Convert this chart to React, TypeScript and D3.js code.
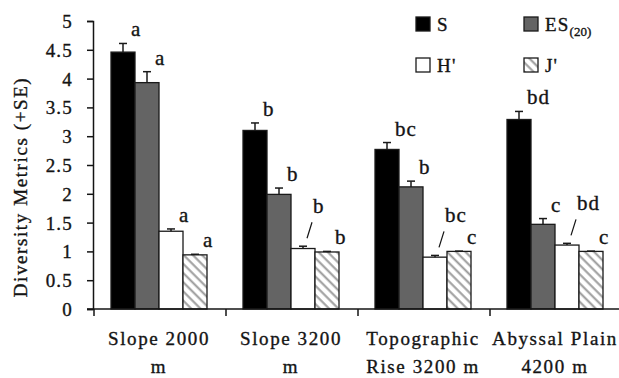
import React, { useEffect, useRef } from 'react';
import * as d3 from 'd3';

const categories = ['Slope 2000 m', 'Slope 3200 m', 'Topographic Rise 3200 m', 'Abyssal Plain 4200 m'];
const categoryLines = [
  ['Slope 2000', 'm'],
  ['Slope 3200', 'm'],
  ['Topographic', 'Rise 3200 m'],
  ['Abyssal Plain', '4200 m'],
];
const seriesNames = ['S', 'ES(20)', "H'", "J'"];

const sValues = [4.46, 3.1, 2.77, 3.29];
const sErrors = [0.15, 0.13, 0.12, 0.14];
const esValues = [3.93, 1.99, 2.12, 1.47];
const esErrors = [0.19, 0.11, 0.1, 0.1];
const hValues = [1.35, 1.05, 0.9, 1.11];
const hErrors = [0.04, 0.04, 0.03, 0.03];
const jValues = [0.94, 0.99, 1.0, 1.0];
const jErrors = [0.01, 0.01, 0.005, 0.005];

const sLetters = ['a', 'b', 'bc', 'bd'];
const esLetters = ['a', 'b', 'b', 'c'];
const hLetters = ['a', 'b', 'bc', 'bd'];
const jLetters = ['a', 'b', 'c', 'c'];
const hLeaders = [false, true, true, true];

const yTicks = [0, 0.5, 1, 1.5, 2, 2.5, 3, 3.5, 4, 4.5, 5];

const App = () => {
  const svgRef = useRef<SVGSVGElement>(null);

  useEffect(() => {
    document.body.style.margin = '0';
    const W = 619;
    const H = 378;
    const left = 93;
    const right = 621;
    const top = 21;
    const bottom = 309;
    const font = 'Liberation Serif, DejaVu Serif, serif';
    const ink = '#141414';

    const root = d3.select(svgRef.current);
    root.selectAll('*').remove();
    root.attr('width', W).attr('height', H).style('font-family', font);

    const defs = root.append('defs');
    const pat = defs
      .append('pattern')
      .attr('id', 'hatch')
      .attr('patternUnits', 'userSpaceOnUse')
      .attr('width', 6.5)
      .attr('height', 6.5)
      .attr('patternTransform', 'rotate(-45)');
    pat.append('rect').attr('width', 6.5).attr('height', 6.5).attr('fill', '#fff');
    pat.append('line').attr('x1', 1.5).attr('y1', 0).attr('x2', 1.5).attr('y2', 6.5)
      .attr('stroke', '#9a9a9a').attr('stroke-width', 2);

    const fills = ['#000', '#646464', '#fff', 'url(#hatch)'];

    const series = [
      { name: seriesNames[0], values: sValues, errors: sErrors, letters: sLetters, leaders: [false, false, false, false] },
      { name: seriesNames[1], values: esValues, errors: esErrors, letters: esLetters, leaders: [false, false, false, false] },
      { name: seriesNames[2], values: hValues, errors: hErrors, letters: hLetters, leaders: hLeaders },
      { name: seriesNames[3], values: jValues, errors: jErrors, letters: jLetters, leaders: [false, false, false, false] },
    ];

    const x0 = d3.scaleBand<string>().domain(categories).range([left, right]).padding(0);
    const x1 = d3.scaleBand<string>().domain(seriesNames).range([0, x0.bandwidth()])
      .paddingInner(0).paddingOuter(0.75);
    const y = d3.scaleLinear().domain([0, 5]).range([bottom, top]);

    // serif text, slightly heavier like the scanned original
    const txt = (sel: any, size: number, spacing: number) =>
      sel.style('font-family', font).style('font-size', `${size}px`).attr('fill', ink)
        .attr('stroke', ink).attr('stroke-width', 0.35)
        .attr('letter-spacing', spacing);

    // y axis
    const yAxis = root.append('g').attr('transform', `translate(${left},0)`)
      .call(d3.axisLeft(y).tickValues(yTicks).tickSize(6).tickPadding(14).tickFormat(d => String(d)));
    yAxis.select('.domain').attr('stroke', ink).attr('stroke-width', 1.5);
    yAxis.selectAll('.tick line').attr('stroke', ink).attr('stroke-width', 1.5);
    txt(yAxis.selectAll('.tick text'), 19, 1.2).attr('dy', '0.34em');

    // bars
    series.forEach((s, si) => {
      const g = root.append('g');
      categories.forEach((c, ci) => {
        const bx = (x0(c) as number) + (x1(s.name) as number);
        const bw = x1.bandwidth();
        const v = s.values[ci];
        g.append('rect')
          .attr('x', bx).attr('y', y(v))
          .attr('width', bw).attr('height', y(0) - y(v))
          .attr('fill', fills[si]).attr('stroke', '#1a1a1a').attr('stroke-width', 1.3);
        const cx = bx + bw / 2;
        const et = y(v + s.errors[ci]);
        g.append('line').attr('x1', cx).attr('x2', cx).attr('y1', y(v)).attr('y2', et)
          .attr('stroke', '#1a1a1a').attr('stroke-width', 1.5);
        g.append('line').attr('x1', cx - 4).attr('x2', cx + 4).attr('y1', et).attr('y2', et)
          .attr('stroke', '#1a1a1a').attr('stroke-width', 1.5);

        const rx = bx + bw;
        if (s.leaders[ci]) {
          g.append('line')
            .attr('x1', rx - 8).attr('y1', et - 8)
            .attr('x2', rx - 3).attr('y2', et - 24)
            .attr('stroke', ink).attr('stroke-width', 1.2);
          txt(g.append('text').attr('x', rx - 2).attr('y', et - 33), 21, 1).text(s.letters[ci]);
        } else {
          txt(g.append('text').attr('x', rx - 4).attr('y', et - 7), 21, 1).text(s.letters[ci]);
        }
      });
    });

    // x axis
    const xAxis = root.append('g');
    xAxis.append('line').attr('x1', left - 6).attr('x2', W).attr('y1', bottom).attr('y2', bottom)
      .attr('stroke', ink).attr('stroke-width', 1.5);
    categories.forEach(c => {
      const tx = x0(c) as number;
      xAxis.append('line').attr('x1', tx + 1).attr('x2', tx + 1).attr('y1', bottom).attr('y2', bottom + 7)
        .attr('stroke', ink).attr('stroke-width', 1.5);
    });
    categories.forEach((c, ci) => {
      const cx = (x0(c) as number) + x0.bandwidth() / 2;
      categoryLines[ci].forEach((line, li) => {
        txt(xAxis.append('text').attr('x', cx).attr('y', 345 + li * 28)
          .attr('text-anchor', 'middle'), 19, 1.6).text(line);
      });
    });

    // y title
    txt(root.append('text')
      .attr('transform', 'translate(27,187) rotate(-90)')
      .attr('text-anchor', 'middle'), 19, 1.6)
      .text('Diversity Metrics (+SE)');

    // legend
    const legendPos = [
      [416, 17],
      [524, 17],
      [416, 58],
      [524, 58],
    ];
    series.forEach((s, si) => {
      const [lx, ly] = legendPos[si];
      const lg = root.append('g');
      lg.append('rect').attr('x', lx).attr('y', ly).attr('width', 14).attr('height', 14)
        .attr('fill', fills[si]).attr('stroke', '#1a1a1a').attr('stroke-width', 1.3);
      const t = txt(lg.append('text').attr('x', lx + 21).attr('y', ly + 14), 19, 1.2);
      if (s.name === 'ES(20)') {
        t.append('tspan').text('ES');
        t.append('tspan').style('font-size', '13px').attr('dy', 5).attr('letter-spacing', 0).text('(20)');
      } else {
        t.text(s.name);
      }
    });
  }, []);

  return <svg ref={svgRef}></svg>;
};

export default App;
